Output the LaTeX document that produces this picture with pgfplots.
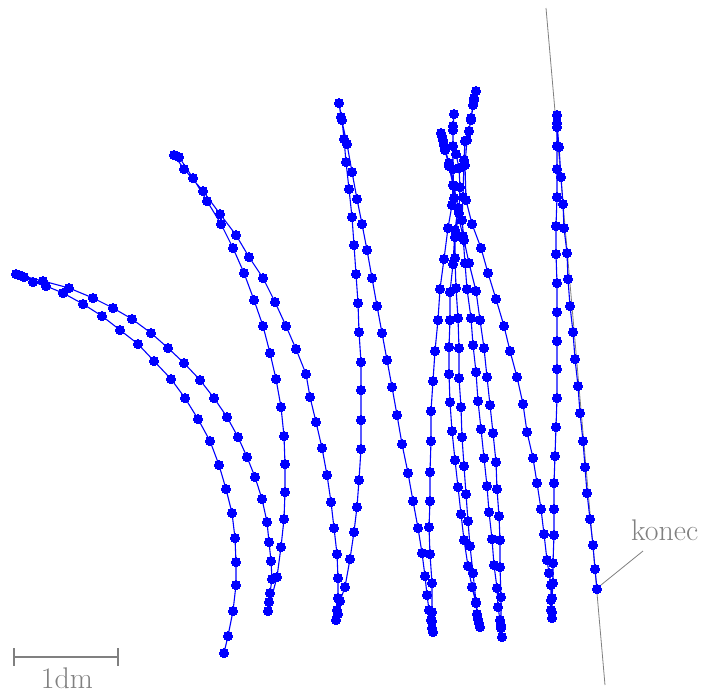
\documentclass[border=0pt]{standalone}
\usepackage{fontspec}
\usepackage{pgfplots}
\pgfplotsset{compat=1.18}

\definecolor{trail}{RGB}{0,0,255}
\definecolor{note}{RGB}{128,128,128}

\begin{document}
\begin{tikzpicture}
\path[use as bounding box] (0,0) rectangle (710bp,693bp);
\begin{axis}[
    at={(0,0)}, anchor=south west,
    x=1bp, y=1bp, y dir=reverse,
    xmin=0, xmax=710, ymin=0, ymax=693,
    hide axis, clip=false, scale only axis,
  ]
  % end heading line and label leader
  \addplot[note, line width=0.8bp, no marks] coordinates {(546,8) (605,685)};
  \addplot[note, line width=0.8bp, no marks] coordinates {(601,585) (643,551)};
  % scale bar
  \addplot[note, line width=2bp, no marks] coordinates {(14,657) (118,657)};
  \addplot[note, line width=2bp, no marks] coordinates {(14,648) (14,666)};
  \addplot[note, line width=2bp, no marks] coordinates {(118,648) (118,666)};

  % robot trajectory
  \addplot[trail, line width=1.1bp, mark=*, mark size=4.5bp,
           mark options={fill=trail, draw=trail, line width=0pt}] coordinates {
    (224,653) (228,636) (233,611) (236,585) (236,562) (235,538) (232,513)
    (226,489) (219,465) (210,441) (198,419) (185,398) (171,379) (154,361)
    (138,344) (120,330) (102,316) (83,304) (63,293) (46,286) (33,282)
    (24,277) (16,274) (19,275) (43,281) (69,288) (93,298) (113,308)
    (132,319) (151,333) (168,348) (184,363) (200,380) (214,398) (227,417)
    (238,437) (247,457) (255,477) (262,499) (267,522) (269,542) (271,561)
    (272,579) (270,593) (269,602) (268,611)
    (277,577) (281,547) (284,519) (285,492) (285,464) (284,436) (281,407)
    (276,379) (270,353) (263,326) (254,300) (244,273) (233,248) (221,224)
    (207,201) (193,178) (179,157) (174,155)
    (184,169) (203,191) (220,214) (236,235) (249,257) (263,278) (275,302)
    (286,326) (296,349) (306,374) (310,397) (316,422) (322,448) (327,475)
    (331,502) (334,528) (337,554) (338,578) (338,598) (337,610) (336,620)
    (338,614) (340,601) (345,587) (350,559) (354,532) (357,507) (359,480)
    (361,449) (361,420) (361,390) (361,362) (359,332) (358,303) (356,274)
    (354,245) (352,217) (349,189) (346,162) (344,139) (342,120) (339,103)
    (341,117) (347,144) (352,172) (357,199) (362,224) (367,250) (372,278)
    (377,306) (382,333) (387,360) (392,387) (397,415) (402,444) (408,473)
    (413,501) (418,528) (422,553) (425,576) (427,595) (429,610) (431,620)
    (432,628) (433,632)
    (432,621) (432,612) (432,583) (430,554) (429,527) (430,501) (430,472)
    (431,441) (431,411) (433,381) (435,351) (438,320) (440,289) (444,259)
    (448,228) (452,205) (453,185) (449,166) (445,150) (443,140) (441,133)
    (442,136) (444,145) (449,163) (454,186) (458,208) (455,230) (453,264)
    (450,292) (450,320) (449,347) (449,374) (450,402) (452,431) (455,460)
    (458,487) (461,514) (464,540) (468,566) (472,587) (476,603) (477,614)
    (479,623) (480,627)
    (478,619) (476,602) (473,573) (470,546) (468,521) (466,494) (464,466)
    (462,437) (461,407) (459,378) (459,348) (458,318) (456,288) (455,258)
    (455,237) (459,213) (460,187) (459,168) (456,154) (453,146) (453,126)
    (454,114)
    (453,130) (453,169) (454,198) (463,236) (465,263) (467,289) (471,318)
    (473,345) (476,372) (478,401) (481,429) (484,458) (487,486) (489,512)
    (492,539) (494,565) (497,588) (498,607) (500,620) (501,628) (502,637)
    (501,625) (501,597) (500,567) (500,540) (499,516) (497,489) (496,462)
    (493,433) (490,405) (487,377) (484,348) (480,320) (476,291) (469,263)
    (464,240) (462,220) (463,197) (464,160) (465,141) (469,131) (471,118)
    (473,105) (474,98) (476,91)
    (474,100) (471,120) (467,140) (465,165) (466,200) (472,224) (481,248)
    (488,273) (496,299) (504,326) (510,351) (517,377) (523,404) (527,432)
    (533,458) (537,483) (541,509) (544,534) (547,560) (549,573) (551,585)
    (551,600) (551,610) (552,618)
    (552,612) (552,598) (553,583) (553,563) (554,535) (554,509) (554,483)
    (555,456) (556,427) (557,398) (557,369) (557,341) (557,312) (557,283)
    (556,254) (556,226) (557,197) (557,169) (557,146) (557,127) (557,115)
    (557,123) (559,147) (561,177) (563,204) (564,228) (567,253) (568,279)
    (570,306) (573,332) (575,359) (578,386) (580,413) (583,441) (585,467)
    (587,493) (590,519) (593,545) (595,569) (597,589)
  };

  \node[text=note, font=\fontsize{30}{36}\selectfont, anchor=base west, inner sep=0pt]
    at (axis cs:631,540) {konec};
  \node[text=note, font=\fontsize{30}{36}\selectfont, anchor=base, inner sep=0pt]
    at (axis cs:67,688) {1dm};
\end{axis}
\end{tikzpicture}
\end{document}
